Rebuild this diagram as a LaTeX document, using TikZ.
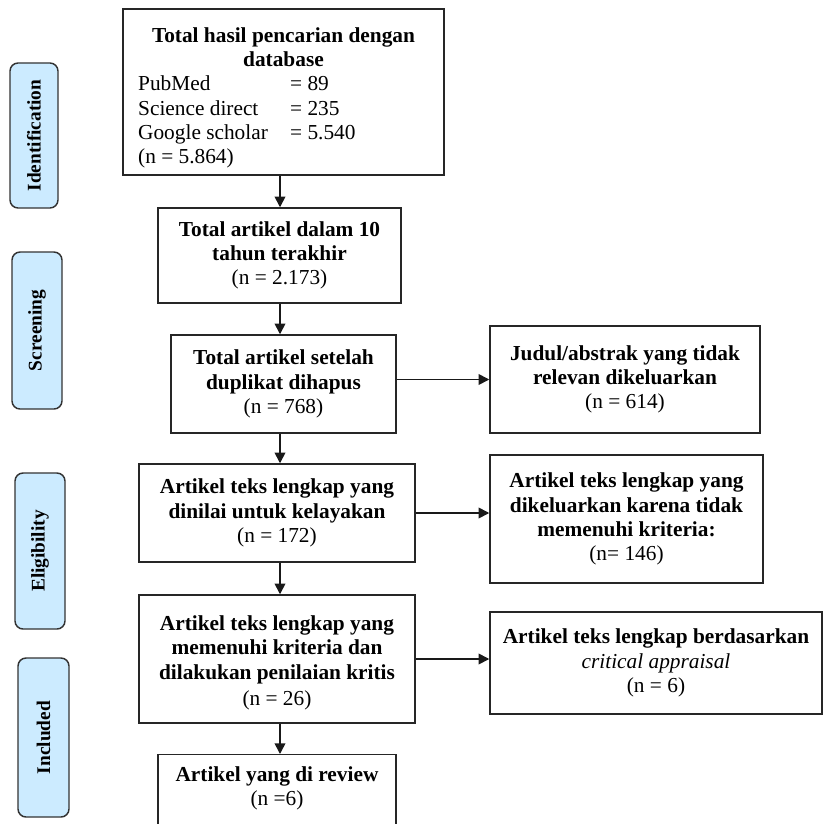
\documentclass[tikz,border=0pt]{standalone}
\usepackage{fontspec}
\setmainfont{Liberation Serif}
\usetikzlibrary{arrows.meta}
\tikzset{
  box/.style = {draw=black!85, line width=1.1pt, align=center, inner sep=2pt,
                font=\fontsize{16}{18.2}\selectfont},
  stage/.style = {draw=black!80, line width=1.1pt, fill=stageblue, rounded corners=6pt,
                  rotate=90, font=\fontsize{14.5}{16}\selectfont\bfseries},
  arr/.style = {line width=1.2pt, draw=black!90, -{Triangle[length=8pt,width=8pt]}}
}
\definecolor{stageblue}{RGB}{204,235,255}
\newcommand{\rowitem}[2]{\makebox[218pt][l]{\makebox[114pt][l]{#1}#2}}
\begin{document}
\begin{tikzpicture}[x=0.75pt,y=-0.75pt]
\useasboundingbox (0,0) rectangle (824,824);
\coordinate (ax) at (280,0);
\node[box, minimum width=240.75pt, minimum height=124.5pt] (B1) at (283.5,92)
  {\rule{0pt}{20pt}\textbf{Total hasil pencarian dengan}\\ \textbf{database}\\
   \rowitem{PubMed}{= 89}\\ \rowitem{Science direct}{= 235}\\
   \rowitem{Google scholar}{= 5.540}\\ \rowitem{(n = 5.864)}{}};
\node[box, minimum width=182.25pt, minimum height=71.25pt] (B2) at (279.5,255.5)
  {\textbf{Total artikel dalam 10}\\ \textbf{tahun terakhir}\\ (n = 2.173)};
\node[box, minimum width=168.75pt, minimum height=73.5pt] (B3) at (283.5,384)
  {\textbf{Total artikel setelah}\\ \textbf{duplikat dihapus}\\ (n = 768)};
\node[box, minimum width=207pt, minimum height=73.5pt] (B4) at (277,513)
  {\textbf{Artikel teks lengkap yang}\\ \textbf{dinilai untuk kelayakan}\\ (n = 172)};
\node[box, minimum width=207pt, minimum height=96pt] (B5) at (277,659)
  {\rule{0pt}{17pt}\textbf{Artikel teks lengkap yang}\\ \textbf{memenuhi kriteria dan}\\
   \textbf{dilakukan penilaian kritis}\\[1.5pt] (n = 26)};
\node[box, anchor=north, minimum width=178.5pt, inner ysep=9pt, text depth=40pt] (B6) at (277,754)
  {\textbf{Artikel yang di review}\\ (n =6)};
\node[box, minimum width=202.5pt, minimum height=80.25pt] (R1) at (625,379.5)
  {\textbf{Judul/abstrak yang tidak}\\ \textbf{relevan dikeluarkan}\\ (n = 614)};
\node[box, minimum width=204.75pt, minimum height=96pt] (R2) at (626.5,519)
  {\textbf{Artikel teks lengkap yang}\\ \textbf{dikeluarkan karena tidak}\\
   \textbf{memenuhi kriteria:}\\ (n= 146)};
\node[box, minimum width=249pt, minimum height=76.5pt] (R3) at (656,663)
  {\textbf{Artikel teks lengkap berdasarkan}\\ \textit{critical appraisal}\\ (n = 6)};
\node[stage, minimum width=108.75pt, minimum height=36pt] (S1) at (34,135.5) {Identification};
\node[stage, minimum width=117.75pt, minimum height=37.5pt] (S2) at (37,330.5) {Screening};
\node[stage, minimum width=117pt, minimum height=37.5pt] (S3) at (40,551) {Eligibility};
\node[stage, minimum width=119.25pt, minimum height=38.25pt] (S4) at (43.5,737.5) {Included};
\draw[arr] (B1.south -| ax) -- (B2.north -| ax);
\draw[arr] (B2.south -| ax) -- (B3.north -| ax);
\draw[arr] (B3.south -| ax) -- (B4.north -| ax);
\draw[arr] (B4.south -| ax) -- (B5.north -| ax);
\draw[arr] (B5.south -| ax) -- (B6.north -| ax);
\draw[arr] (B3.east |- R1.west) -- (R1.west);
\draw[arr] (B4.east) -- (B4.east -| R2.west);
\draw[arr] (B5.east) -- (B5.east -| R3.west);
\end{tikzpicture}
\end{document}
